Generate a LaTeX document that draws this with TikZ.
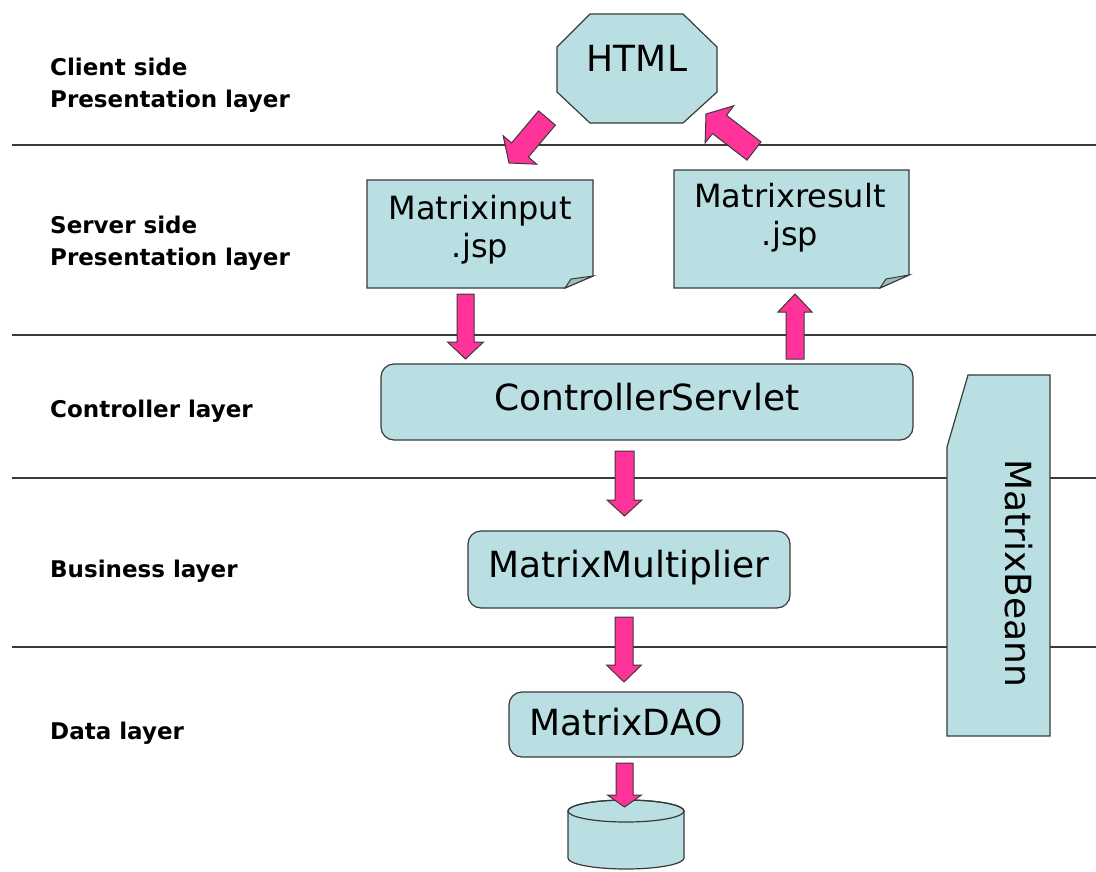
\documentclass[tikz,border=0pt]{standalone}
\usepackage{fontspec}
\setmainfont{DejaVu Sans}
\usetikzlibrary{calc}
\definecolor{boxfill}{HTML}{B9DFE3}
\definecolor{pinkarrow}{HTML}{FF3399}
\definecolor{edgecol}{HTML}{3A3A3A}
\definecolor{foldfill}{HTML}{9DBDC0}
\newcommand\blockarrow[5]{%
  \coordinate (ba-m) at ($(#2)!#5!(#1)$);
  \filldraw[barrow] ($(#1)!#3!90:(#2)$) -- ($(ba-m)!#3!90:(#2)$) -- ($(ba-m)!#4!90:(#2)$)
    -- (#2) -- ($(ba-m)!#4!-90:(#2)$) -- ($(ba-m)!#3!-90:(#2)$) -- ($(#1)!#3!-90:(#2)$) -- cycle;
}
\begin{document}
\begin{tikzpicture}[x=1pt,y=-1pt,
  layerline/.style={draw=edgecol, line width=1.4pt},
  shapebox/.style={fill=boxfill, draw=edgecol, line width=1.2pt},
  foldbox/.style={fill=foldfill, draw=edgecol, line width=1pt},
  roundbox/.style={shapebox, rounded corners=13pt, inner sep=0pt,
    font=\fontsize{36}{43}\selectfont, text height=27pt, text depth=11pt},
  bigtext/.style={inner sep=0pt, font=\fontsize{36}{43}\selectfont},
  doctext/.style={inner sep=0pt, align=center, font=\fontsize{32}{38}\selectfont},
  layerlabel/.style={inner sep=0pt, align=left, font=\bfseries\fontsize{23}{32}\selectfont},
  barrow/.style={fill=pinkarrow, draw=edgecol, line width=1pt, line join=miter}
]
\useasboundingbox (0,0) rectangle (1096,871);

% layer separators
\coordinate (s1l) at (12,145);  \coordinate (s1r) at (1096,145);
\coordinate (s2l) at (12,335);  \coordinate (s2r) at (1096,335);
\coordinate (s3l) at (12,478);  \coordinate (s3r) at (1096,478);
\coordinate (s4l) at (12,647);  \coordinate (s4r) at (1096,647);
\draw[layerline] (s1l) -- (s1r);
\draw[layerline] (s2l) -- (s2r);
\draw[layerline] (s3l) -- (s3r);
\draw[layerline] (s4l) -- (s4r);

% layer labels
\node[layerlabel, anchor=west] (lab1) at (50,85) {Client side\\Presentation layer};
\node[layerlabel, anchor=west] (lab2) at (50,243) {Server side\\Presentation layer};
\node[layerlabel, anchor=base west] (lab3) at (50,417) {Controller layer};
\node[layerlabel, anchor=base west] (lab4) at (50,577) {Business layer};
\node[layerlabel, anchor=base west] (lab5) at (50,739) {Data layer};

% HTML octagon
\path[shapebox] (590,14) -- (683,14) -- (717,47) -- (717,92) -- (683,123)
  -- (590,123) -- (557,92) -- (557,47) -- cycle;
\node[bigtext, anchor=base] (html) at (637,71) {HTML};

% Matrixinput.jsp document
\path[shapebox] (367,180) -- (593,180) -- (593,276) -- (565,288) -- (367,288) -- cycle;
\path[foldbox] (565,288) -- (571,279) -- (593,276) -- cycle;
\node[doctext] (minput) at (480,230) {Matrixinput\\.jsp};

% Matrixresult.jsp document
\path[shapebox] (674,170) -- (909,170) -- (909,275) -- (880,288) -- (674,288) -- cycle;
\path[foldbox] (880,288) -- (886,279) -- (909,275) -- cycle;
\node[doctext] (mresult) at (790,218) {Matrixresult\\.jsp};

% rounded boxes
\node[roundbox, minimum width=532pt, minimum height=76pt] (cs) at (647,402) {ControllerServlet};
\node[roundbox, minimum width=322pt, minimum height=77pt] (mm) at (629,569.5) {MatrixMultiplier};
\node[roundbox, minimum width=234pt, minimum height=65pt, text depth=5pt] (dao) at (626,724.5) {MatrixDAO};

% database cylinder
\path[shapebox] (568,811) -- (568,858) arc[start angle=180, end angle=360, x radius=58pt, y radius=11pt]
  -- (684,811) arc[start angle=0, end angle=180, x radius=58pt, y radius=11pt] -- cycle;
\draw[edgecol, line width=1.2pt] (626,811) ellipse [x radius=58pt, y radius=11pt];
\coordinate (db) at (626,811);

% MatrixBeann
\path[shapebox] (968,375) -- (1050,375) -- (1050,736) -- (947,736) -- (947,447) -- cycle;
\node[bigtext, rotate=-90] (bean) at (1019,573) {MatrixBeann};

% block arrows
\coordinate (a1t) at (547,118); \coordinate (a1h) at (509,163);
\coordinate (a2t) at (754,151); \coordinate (a2h) at (706,114);
\coordinate (a3t) at (465.5,294); \coordinate (a3h) at (465.5,359);
\coordinate (a4t) at (795,359); \coordinate (a4h) at (795,294);
\coordinate (a5t) at (624.5,451); \coordinate (a5h) at (624.5,516);
\coordinate (a6t) at (624,617); \coordinate (a6h) at (624,682);
\coordinate (a7t) at (624.5,763); \coordinate (a7h) at (624.5,807);
\blockarrow{a1t}{a1h}{11pt}{22pt}{17pt}
\blockarrow{a2t}{a2h}{11.5pt}{23.5pt}{17pt}
\blockarrow{a3t}{a3h}{8.5pt}{18pt}{17pt}
\blockarrow{a4t}{a4h}{9pt}{17pt}{18pt}
\blockarrow{a5t}{a5h}{9.5pt}{17.5pt}{16pt}
\blockarrow{a6t}{a6h}{9pt}{17.5pt}{17pt}
\blockarrow{a7t}{a7h}{8.5pt}{17pt}{12pt}
\end{tikzpicture}
\end{document}
